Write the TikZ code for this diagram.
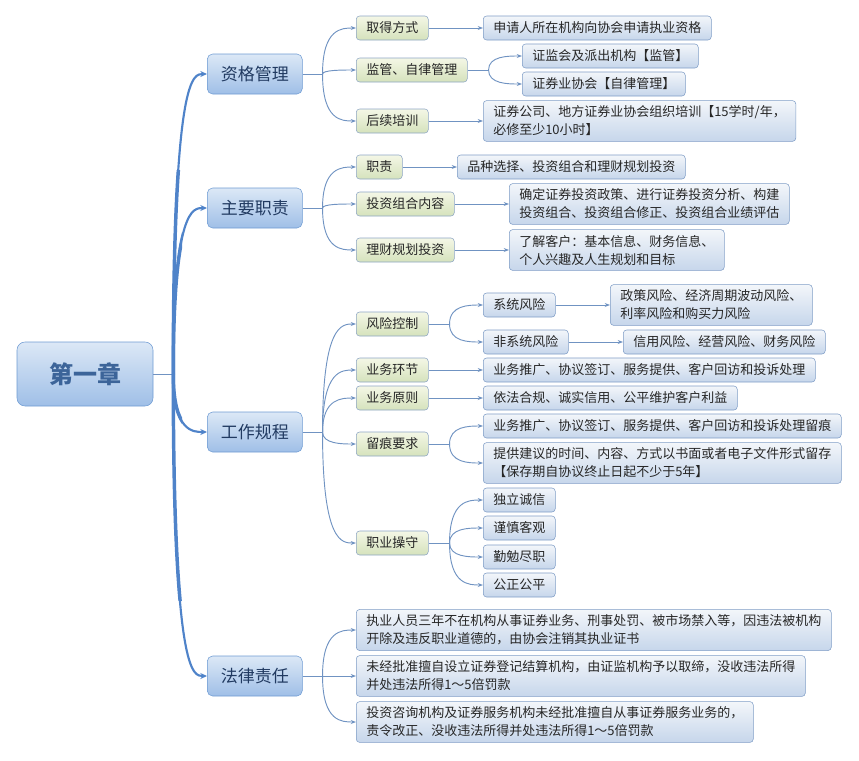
\documentclass[tikz,border=0pt]{standalone}
\usepackage{fontspec}
\setmainfont{Noto Sans CJK SC}
\usetikzlibrary{arrows.meta}

\definecolor{rtop}{HTML}{DCE8F6}
\definecolor{rbot}{HTML}{9FBFE7}
\definecolor{boxedge}{HTML}{6E9BD3}
\definecolor{roottext}{HTML}{3C6499}
\definecolor{topictext}{HTML}{213A61}
\definecolor{stop}{HTML}{F4F7E6}
\definecolor{sbot}{HTML}{D5E2BC}
\definecolor{subedge}{HTML}{8DA5C4}
\definecolor{ltop}{HTML}{F3F6FA}
\definecolor{lbot}{HTML}{C6D6EB}
\definecolor{leafedge}{HTML}{7F9DC6}
\definecolor{linkblue}{HTML}{7093C2}
\definecolor{trunkblue}{HTML}{4F83C9}

\begin{document}
\begin{tikzpicture}[x=0.75pt,y=-0.75pt,
	every node/.style={anchor=west,align=left,text=black!85,font=\fontsize{9.75}{13.5}\selectfont},
	rootbox/.style={draw=boxedge,rounded corners=6pt,top color=rtop,bottom color=rbot,anchor=center,align=center,minimum width=102pt,minimum height=48pt,text=roottext,font=\fontsize{18}{20}\selectfont\bfseries},
	topicbox/.style={draw=boxedge,rounded corners=4pt,top color=rtop,bottom color=rbot,align=center,minimum width=71.25pt,minimum height=30pt,text=topictext,font=\fontsize{12.75}{14}\selectfont},
	subbox/.style={draw=subedge,rounded corners=2.5pt,top color=stop,bottom color=sbot,inner xsep=7.5pt,inner ysep=4pt,minimum height=18pt},
	leafbox/.style={draw=leafedge,rounded corners=2.5pt,top color=ltop,bottom color=lbot,inner xsep=7.5pt,inner ysep=4pt,minimum height=18pt},
	line/.style={draw=linkblue,line width=0.7pt},
	link/.style={line,-{Stealth[length=4pt,width=3pt]}},
	trunk/.style={draw=trunkblue,line width=1.6pt,-{Stealth[length=5pt,width=4.5pt]}}]
	\useasboundingbox (0,0) rectangle (859,760);

	\node[rootbox] (root) at (85,374) {第一章};
	\node[topicbox] (zg) at (207,74) {资格管理};
	\node[topicbox] (zz) at (207,208) {主要职责};
	\node[topicbox] (gz) at (207,432) {工作规程};
	\node[topicbox] (fl) at (207,676) {法律责任};

	\node[subbox] (qd) at (356,28) {取得方式};
	\node[subbox] (jg) at (356,70) {监管、自律管理};
	\node[subbox] (px) at (356,121) {后续培训};
	\node[subbox] (zc) at (356,167) {职责};
	\node[subbox] (tz) at (356,204) {投资组合内容};
	\node[subbox] (lc) at (356,250) {理财规划投资};
	\node[subbox] (fx) at (356,324) {风险控制};
	\node[subbox] (hj) at (356,370) {业务环节};
	\node[subbox] (yz) at (356,398) {业务原则};
	\node[subbox] (lh) at (356,444) {留痕要求};
	\node[subbox] (cy) at (356,543) {职业操守};
	\node[leafbox] (fa) at (356,630) {执业人员三年不在机构从事证券业务、刑事处罚、被市场禁入等，因违法被机构\\开除及违反职业道德的，由协会注销其执业证书};
	\node[leafbox] (fb) at (356,676) {未经批准擅自设立证券登记结算机构，由证监机构予以取缔，没收违法所得\\并处违法所得1～5倍罚款};
	\node[leafbox] (fc) at (356,722) {投资咨询机构及证券服务机构未经批准擅自从事证券服务业务的，\\责令改正、没收违法所得并处违法所得1～5倍罚款};

	\node[leafbox] (qd1) at (483,28) {申请人所在机构向协会申请执业资格};
	\node[leafbox] (jg1) at (522,56) {证监会及派出机构【监管】};
	\node[leafbox] (jg2) at (522,84) {证券业协会【自律管理】};
	\node[leafbox] (px1) at (483,121) {证券公司、地方证券业协会组织培训【15学时/年，\\必修至少10小时】};
	\node[leafbox] (zc1) at (457,167) {品种选择、投资组合和理财规划投资};
	\node[leafbox] (tz1) at (509,204) {确定证券投资政策、进行证券投资分析、构建\\投资组合、投资组合修正、投资组合业绩评估};
	\node[leafbox] (lc1) at (509,250) {了解客户：基本信息、财务信息、\\个人兴趣及人生规划和目标};
	\node[leafbox] (fx1) at (483,305) {系统风险};
	\node[leafbox] (fx2) at (483,342) {非系统风险};
	\node[leafbox] (fx11) at (610,305) {政策风险、经济周期波动风险、\\利率风险和购买力风险};
	\node[leafbox] (fx21) at (623,342) {信用风险、经营风险、财务风险};
	\node[leafbox] (hj1) at (483,370) {业务推广、协议签订、服务提供、客户回访和投诉处理};
	\node[leafbox] (yz1) at (483,398) {依法合规、诚实信用、公平维护客户利益};
	\node[leafbox] (lh1) at (483,426) {业务推广、协议签订、服务提供、客户回访和投诉处理留痕};
	\node[leafbox] (lh2) at (483,463) {提供建议的时间、内容、方式以书面或者电子文件形式留存\\【保存期自协议终止日起不少于5年】};
	\node[leafbox] (cy1) at (483,500) {独立诚信};
	\node[leafbox] (cy2) at (483,528) {谨慎客观};
	\node[leafbox] (cy3) at (483,557) {勤勉尽职};
	\node[leafbox] (cy4) at (483,585) {公正公平};

	\path (root.east) ++(20,0) coordinate (rh);
	\draw[line] (root.east) -- (rh);
	\foreach \t in {zg,zz,gz,fl}
		\draw[trunk] (rh) .. controls (rh |- \t.west) and +(-14,0) .. (\t.west);
	\begin{scope}
		\clip (160,170) rectangle (182,600);
		\foreach \t in {zg,zz,gz,fl}
			\draw[trunk,-,line width=2.6pt] (rh) .. controls (rh |- \t.west) and +(-14,0) .. (\t.west);
	\end{scope}

	\foreach \p/\kids in {zg/{qd,jg,px},zz/{zc,tz,lc},gz/{fx,hj,yz,lh,cy},fl/{fa,fb,fc}} {
		\path (\p.east) ++(20,0) coordinate (\p h);
		\draw[line] (\p.east) -- (\p h);
		\foreach \s in \kids
			\draw[link] (\p h) .. controls (\p h |- \s.west) and +(-14,0) .. (\s.west);
	}

	\foreach \p/\kids in {jg/{jg1,jg2},fx/{fx1,fx2},lh/{lh1,lh2},cy/{cy1,cy2,cy3,cy4}} {
		\path (\p.east) ++(21,0) coordinate (\p h);
		\draw[line] (\p.east) -- (\p h);
		\foreach \s in \kids
			\draw[link] (\p h) .. controls (\p h |- \s.west) and +(-14,0) .. (\s.west);
	}

	\foreach \a/\b in {qd/qd1,px/px1,zc/zc1,tz/tz1,lc/lc1,fx1/fx11,fx2/fx21,hj/hj1,yz/yz1}
		\draw[link] (\a.east) -- (\b.west);
\end{tikzpicture}
\end{document}
